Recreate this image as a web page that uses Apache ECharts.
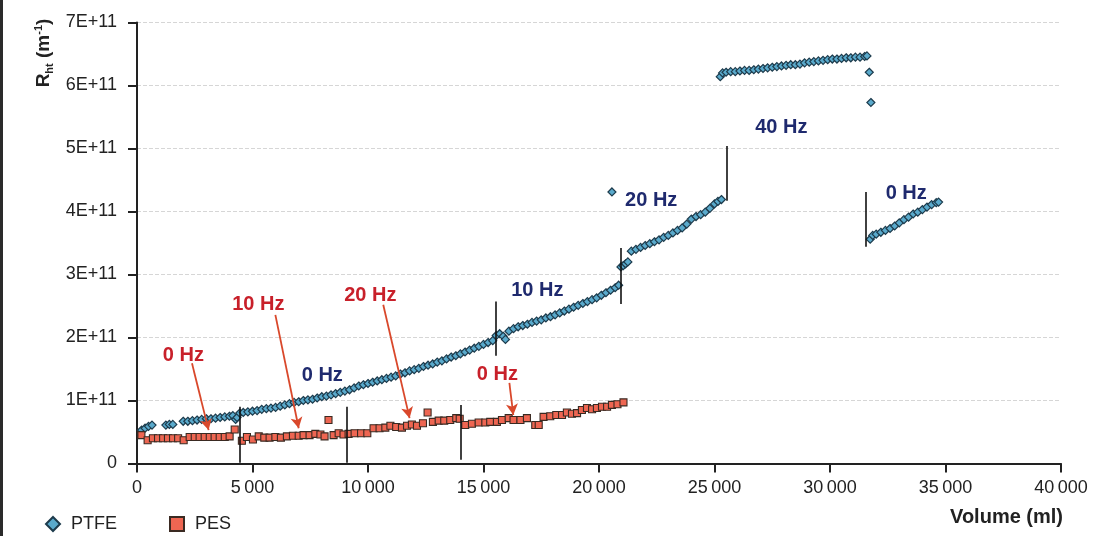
<!DOCTYPE html>
<html><head><meta charset="utf-8">
<script src="https://cdn.jsdelivr.net/npm/echarts@6.0.0/dist/echarts.min.js"></script>
<style>html,body{margin:0;padding:0;background:#fff}#c{width:1096px;height:536px}</style>
</head><body><div id="c"></div><script>
// ---- data (volume in ml, Rht in units of 1E+11 m^-1) ----
const ptfeVolume = [200,350,500,650,1250,1400,1550,2000,2200,2400,2600,2800,3000,3200,3400,3600,3800,4000,4150,4270,4330,
4450,4600,4800,5000,5200,5400,5600,5800,6000,6200,6400,6600,6800,7000,7200,7400,7600,7800,8000,8200,8400,8600,8800,9000,9200,9400,9600,9800,10000,10200,10400,10600,10800,11000,11200,11400,11600,11800,12000,12200,12400,12600,12800,13000,13200,13400,13600,13800,14000,14200,14400,14600,14800,15000,15200,15400,
15550,15700,15850,15950,16100,16300,16500,16700,16900,17100,17300,17500,17700,17900,18100,18300,18500,18700,18900,19100,19300,19500,19700,19900,20100,20300,20500,20700,20850,
20560,
20950,21050,21150,21250,21400,21600,21800,22000,22200,22400,22600,22800,23000,23200,23400,23600,23800,24000,24200,24400,24600,24800,25000,25150,25300,
25250,25350,25500,25700,25900,26100,26300,26500,26700,26900,27100,27300,27500,27700,27900,28100,28300,28500,28700,28900,29100,29300,29500,29700,29900,30100,30300,30500,30700,30900,31100,31300,31500,31600,
31700,31770,
31740,31850,32000,32200,32400,32600,32800,33000,33200,33400,33600,33800,34000,34200,34400,34600,34700];
const ptfeR = [0.53,0.56,0.59,0.61,0.61,0.62,0.62,0.67,0.67,0.68,0.69,0.70,0.71,0.71,0.72,0.73,0.74,0.75,0.76,0.70,0.73,
0.80,0.81,0.82,0.83,0.84,0.86,0.87,0.88,0.89,0.91,0.93,0.95,0.97,0.98,1.00,1.01,1.02,1.04,1.06,1.07,1.09,1.11,1.13,1.15,1.17,1.20,1.23,1.25,1.27,1.29,1.31,1.33,1.35,1.37,1.39,1.42,1.44,1.47,1.49,1.51,1.54,1.56,1.58,1.61,1.63,1.66,1.69,1.71,1.74,1.77,1.80,1.83,1.86,1.89,1.92,1.95,
2.03,2.06,2.02,1.97,2.10,2.14,2.17,2.19,2.21,2.24,2.26,2.28,2.31,2.33,2.36,2.39,2.42,2.45,2.48,2.51,2.54,2.57,2.60,2.63,2.67,2.71,2.75,2.79,2.83,
4.31,
3.12,3.14,3.17,3.20,3.37,3.40,3.43,3.46,3.49,3.52,3.55,3.59,3.62,3.66,3.70,3.74,3.80,3.88,3.92,3.95,3.99,4.05,4.12,4.16,4.19,
6.14,6.20,6.21,6.22,6.22,6.23,6.24,6.24,6.25,6.26,6.27,6.28,6.29,6.30,6.31,6.32,6.33,6.33,6.34,6.36,6.37,6.38,6.39,6.40,6.41,6.42,6.42,6.43,6.44,6.44,6.45,6.45,6.46,6.47,
6.21,5.73,
3.56,3.62,3.64,3.67,3.70,3.73,3.77,3.82,3.87,3.91,3.96,3.99,4.03,4.07,4.11,4.14,4.15];

const pesVolume = [190,460,690,910,1130,1340,1560,1780,2020,2280,2500,2710,2930,3150,3360,3580,3800,4010,4230,
4540,4760,5020,5270,5510,5740,5990,6230,6490,6750,7000,7210,7470,7720,7940,8120,8290,8510,8730,8940,
9160,9420,9700,9970,10240,10500,10750,10970,11220,11470,11690,11900,12120,12380,12580,12810,13060,13300,13560,13820,13970,
14210,14500,14790,15080,15290,15580,15800,16090,16300,16600,16880,17240,17390,17600,17890,18150,18400,18610,18830,19050,19260,19480,19700,19910,20130,20350,20560,20800,21060];
const pesR = [0.45,0.37,0.40,0.40,0.40,0.40,0.40,0.40,0.37,0.42,0.42,0.42,0.42,0.42,0.42,0.42,0.42,0.43,0.54,
0.36,0.42,0.38,0.43,0.41,0.41,0.42,0.41,0.43,0.44,0.44,0.45,0.45,0.47,0.46,0.43,0.69,0.45,0.48,0.46,
0.47,0.48,0.48,0.48,0.56,0.56,0.57,0.60,0.58,0.57,0.60,0.62,0.60,0.64,0.81,0.66,0.68,0.68,0.69,0.72,0.71,
0.61,0.63,0.65,0.65,0.66,0.66,0.69,0.72,0.69,0.69,0.72,0.61,0.61,0.74,0.75,0.77,0.77,0.81,0.79,0.80,0.85,0.88,0.86,0.88,0.90,0.90,0.93,0.94,0.97];

const xTicks = [0,5000,10000,15000,20000,25000,30000,35000,40000];
const yTicks = [0,1,2,3,4,5,6,7];

// annotations: [volume, rFrom, rTo]
const dividers = [[4440,0.01,0.90],[9090,0.01,0.90],[14030,0.06,0.93],[15510,1.71,2.57],[20950,2.53,3.42],[25510,4.17,5.04],[31560,3.44,4.31]];
// arrows: [vol0, r0, vol1, r1]
const arrows = [[2380,1.59,3100,0.53],[5990,2.36,7000,0.56],[10660,2.52,11800,0.72],[16120,1.28,16290,0.77]];
const pesNotes = [['0 Hz',2010,1.72],['10 Hz',5250,2.52],['20 Hz',10100,2.67],['0 Hz',15600,1.42]];
const ptfeNotes = [['0 Hz',8020,1.40],['10 Hz',17330,2.74],['20 Hz',22260,4.17],['40 Hz',27890,5.33],['0 Hz',33300,4.29]];

const FONT = '"Liberation Sans", Arial, Helvetica, sans-serif';
const chart = echarts.init(document.getElementById('c'), null, {renderer:'canvas'});

function noteMarks(notes, color){
  return {
    symbol:'circle', symbolSize:1, silent:true, animation:false,
    itemStyle:{color:'rgba(0,0,0,0)'},
    label:{show:true, position:'inside', formatter:'{b}', color:color, fontSize:20, fontWeight:'bold', fontFamily:FONT},
    data: notes.map(n=>({name:n[0], coord:[n[1], n[2]]}))
  };
}
function fmtX(v){
  if (v === 0) return '0';
  return String(Math.floor(v/1000)) + '\u2009' + String(v%1000).padStart(3,'0');
}

chart.setOption({
  animation:false,
  backgroundColor:'#fff',
  grid:{left:137, right:35, top:22.5, bottom:72.5, containLabel:false, outerBoundsMode:'none'},
  legend:{
    left:40, top:510, itemWidth:14, itemHeight:14, itemGap:52,
    textStyle:{fontSize:18, color:'#222', fontFamily:FONT, padding:[0,0,0,6]},
    data:['PTFE','PES']
  },
  xAxis:{
    type:'value', min:0, max:40000, interval:5000,
    axisLine:{show:true, onZero:false, lineStyle:{color:'#222', width:2}},
    axisTick:{show:true, inside:false, length:9, lineStyle:{color:'#222', width:2}},
    axisLabel:{fontSize:18, color:'#222', margin:16, fontFamily:FONT, formatter:fmtX},
    splitLine:{show:false}
  },
  yAxis:{
    type:'value', min:0, max:7, interval:1,
    axisLine:{show:true, lineStyle:{color:'#222', width:2}},
    axisTick:{show:true, inside:false, length:9, lineStyle:{color:'#222', width:2}},
    axisLabel:{fontSize:18, color:'#222', margin:20, fontFamily:FONT, formatter:v=> v===0 ? '0' : v+'E+11'},
    splitLine:{show:true, lineStyle:{color:'#d6d6d6', type:'dashed', width:1}}
  },
  series:[
    {
      name:'PTFE', type:'scatter', symbol:'diamond', symbolSize:8,
      itemStyle:{color:'#5aaacc', borderColor:'#1d3b4c', borderWidth:1.2, opacity:1},
      emphasis:{disabled:true},
      data: ptfeVolume.map((v,i)=>[v, ptfeR[i]]),
      markLine:{
        silent:true, animation:false, symbol:['none','none'],
        label:{show:false},
        lineStyle:{color:'#111', width:1.6, type:'solid'},
        data: dividers.map(d=>[{coord:[d[0],d[1]]},{coord:[d[0],d[2]]}])
      },
      markPoint: noteMarks(ptfeNotes, '#1f2a6e'),
      z:3
    },
    {
      name:'PES', type:'scatter', symbol:'rect', symbolSize:7,
      itemStyle:{color:'#ee6652', borderColor:'#3a2a22', borderWidth:1.1, opacity:1},
      emphasis:{disabled:true},
      data: pesVolume.map((v,i)=>[v, pesR[i]]),
      markLine:{
        silent:true, animation:false, symbol:['none','arrow'], symbolSize:[9,11],
        label:{show:false},
        lineStyle:{color:'#d9482b', width:1.8, type:'solid'},
        data: arrows.map(a=>[{coord:[a[0],a[1]]},{coord:[a[2],a[3]]}])
      },
      markPoint: noteMarks(pesNotes, '#c8202a'),
      z:4
    }
  ],
  graphic:[
    {type:'rect', left:0, top:0, shape:{x:0,y:0,width:3,height:536}, style:{fill:'#2a2a2a'}, silent:true},
    {type:'text', x:44, y:53, rotation:Math.PI/2, silent:true,
      style:{
        text:'{r|R}{s|ht}{r| (m}{p|-1}{r|)}',
        align:'center', verticalAlign:'middle',
        rich:{
          r:{fontSize:19, fontWeight:'bold', fill:'#222', fontFamily:FONT, lineHeight:22, verticalAlign:'middle'},
          s:{fontSize:11, fontWeight:'bold', fill:'#222', fontFamily:FONT, lineHeight:12, verticalAlign:'bottom'},
          p:{fontSize:11, fontWeight:'bold', fill:'#222', fontFamily:FONT, lineHeight:12, verticalAlign:'top'}
        }
      }
    },
    {type:'text', x:1063, y:517, silent:true,
      style:{text:'Volume (ml)', align:'right', verticalAlign:'middle', fontSize:20, fontWeight:'bold', fill:'#222', fontFamily:FONT}}
  ]
});
</script></body></html>
